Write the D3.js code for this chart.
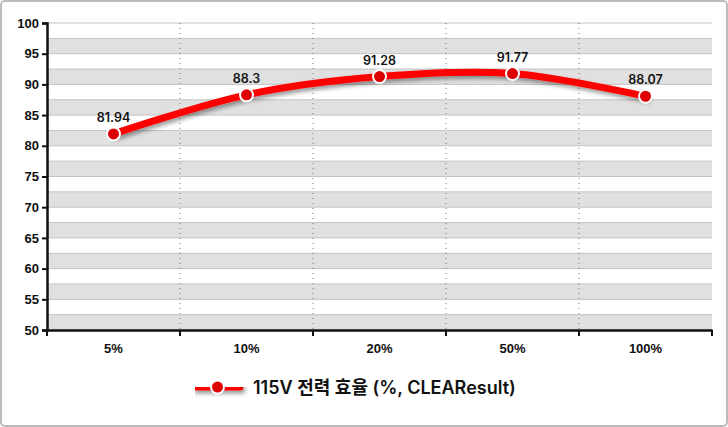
<!DOCTYPE html><html><head><meta charset="utf-8"><script src="https://cdn.jsdelivr.net/npm/d3@7"></script>
<style>body{margin:0;background:#fff}svg{font-family:Inter,"Noto Sans CJK KR",sans-serif}</style></head><body>
<svg id="c" width="728" height="427"></svg>
<script>
const categories=["5%","10%","20%","50%","100%"];
const values=[81.94,88.3,91.28,91.77,88.07];
const yTicks=[50,55,60,65,70,75,80,85,90,95,100];
const seriesName="115V 전력 효율 (%, CLEAResult)";
const svg=d3.select("#c");
svg.append("rect").attr("x",1).attr("y",1).attr("width",726).attr("height",425).attr("rx",4).attr("fill","#fff").attr("stroke","#bbb").attr("stroke-width",2);
const L=47,R=712,T=23,B=330;
const x=d3.scaleBand().domain(categories).range([L,R]);
const y=d3.scaleLinear().domain([50,100]).range([B,T]);
const defs=svg.append("defs");
const f=defs.append("filter").attr("id","sh").attr("filterUnits","userSpaceOnUse").attr("x",0).attr("y",0).attr("width",728).attr("height",427);
f.append("feDropShadow").attr("dx",2).attr("dy",3).attr("stdDeviation",2).attr("flood-color","#000").attr("flood-opacity",0.4);
d3.range(50,100,5).forEach(k=>{
 svg.append("rect").attr("x",L).attr("width",R-L).attr("y",y(k+2.5)).attr("height",y(k)-y(k+2.5)).attr("fill","#e0e0e0");
});
d3.range(50,100.1,2.5).forEach(k=>{
 svg.append("line").attr("x1",L).attr("x2",R).attr("y1",y(k)).attr("y2",y(k)).attr("stroke","#c4c4c4").attr("stroke-width",1);
});
categories.slice(1).forEach(c=>{
 svg.append("line").attr("x1",x(c)).attr("x2",x(c)).attr("y1",T).attr("y2",B).attr("stroke","#777").attr("stroke-dasharray","1,4");
});
const ya=svg.append("g").attr("transform",`translate(${L},0)`).call(d3.axisLeft(y).tickValues(yTicks).tickSize(5).tickPadding(3));
ya.selectAll("text").attr("font-size",13).attr("font-weight",600).attr("fill","#111");
ya.select(".domain").attr("stroke","#111").attr("stroke-width",2.5);
ya.selectAll(".tick line").attr("stroke","#111").attr("stroke-width",2);
const xa=svg.append("g").attr("transform",`translate(0,${B})`).call(d3.axisBottom(x).tickSizeOuter(0).tickSize(0).tickPadding(14));
xa.selectAll("text").attr("font-size",13).attr("font-weight",600).attr("fill","#111");
xa.select(".domain").attr("stroke","#111").attr("stroke-width",2.5);
xa.selectAll(".b").data(x.domain().concat([null])).enter().append("line").attr("x1",(d,i)=>L+i*x.bandwidth()).attr("x2",(d,i)=>L+i*x.bandwidth()).attr("y1",0).attr("y2",6).attr("stroke","#111").attr("stroke-width",2);
const cx=d=>x(d)+x.bandwidth()/2;
const line=d3.line().x((d,i)=>cx(categories[i])).y(d=>y(d)).curve(d3.curveCardinal.tension(0));
svg.append("path").attr("d",line(values)).attr("fill","none").attr("stroke","#f00").attr("stroke-width",7).attr("stroke-linecap","round").attr("filter","url(#sh)");
svg.selectAll(".p").data(values).enter().append("circle").attr("cx",(d,i)=>cx(categories[i])).attr("cy",d=>y(d)).attr("r",6.5).attr("fill","#d00").attr("stroke","#fff").attr("stroke-width",2);
svg.selectAll(".l").data(values).enter().append("text").attr("x",(d,i)=>cx(categories[i])).attr("y",d=>y(d)-12).attr("text-anchor","middle").attr("font-size",12.5).attr("font-weight",600).attr("fill","#111").text(d=>d);
const lg=svg.append("g").attr("transform","translate(195,387)");
lg.append("line").attr("x1",0).attr("x2",45).attr("y1",0).attr("y2",0).attr("stroke","#f00").attr("stroke-width",7).attr("stroke-linecap","round").attr("filter","url(#sh)");
lg.append("circle").attr("cx",22.5).attr("cy",0).attr("r",6.5).attr("fill","#d00").attr("stroke","#fff").attr("stroke-width",2);
lg.append("text").attr("x",58).attr("y",7).attr("font-size",18).attr("font-weight",600).attr("fill","#111").text(seriesName);
</script></body></html>
